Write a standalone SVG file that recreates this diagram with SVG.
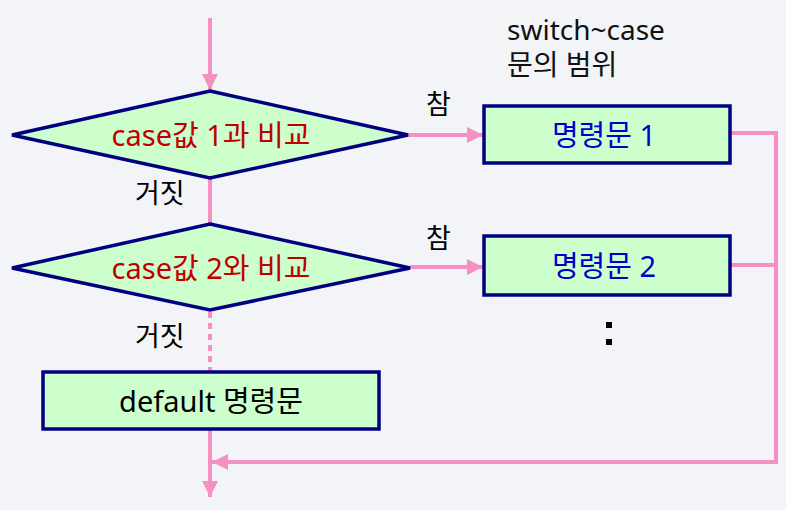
<svg xmlns="http://www.w3.org/2000/svg" width="786" height="510" viewBox="0 0 786 510">
<style>
.bg{fill:#f3f4f7}
.shape{fill:#ccffcc;stroke:#000080;stroke-width:3.5}
.conn{fill:none;stroke:#f690c2;stroke-width:4}
.dash{stroke-dasharray:6 5}
text{font-family:"Noto Sans","Noto Sans CJK KR",sans-serif}
.cond{fill:#c00000;font-size:29px;text-anchor:middle}
.stmt{fill:#0000cc;font-size:29px;text-anchor:middle}
.lbl{fill:#000;font-size:27px}
.dflt{fill:#000;font-size:29px;text-anchor:middle}
.note{fill:#111;font-size:28px}
</style>
<defs>
<marker id="ah" viewBox="0 0 10 10" refX="10" refY="5" markerWidth="4.5" markerHeight="4" orient="auto" markerUnits="strokeWidth">
<path d="M0,0 L10,5 L0,10 z" fill="#f690c2"/>
</marker>
</defs>
<rect class="bg" x="0" y="0" width="786" height="510"/>
<g id="connectors">
<line class="conn" x1="210" y1="18" x2="210" y2="90" marker-end="url(#ah)"/>
<line class="conn" x1="210" y1="178" x2="210" y2="224"/>
<line class="conn dash" x1="210" y1="312" x2="210" y2="371"/>
<line class="conn" x1="210" y1="430" x2="210" y2="497" marker-end="url(#ah)"/>
<line class="conn" x1="408" y1="135" x2="483" y2="135" marker-end="url(#ah)"/>
<line class="conn" x1="410" y1="267" x2="483" y2="267" marker-end="url(#ah)"/>
<polyline class="conn" points="731,133 776,133 776,462 212,462" marker-end="url(#ah)"/>
<line class="conn" x1="731" y1="265" x2="776" y2="265"/>
</g>
<g id="cond1">
<polygon class="shape" points="210,91 408,135 210,178 12,135"/>
<text class="cond" x="211" y="146">case값 1과 비교</text>
</g>
<g id="cond2">
<polygon class="shape" points="210,224 410,268 210,310 12,268"/>
<text class="cond" x="211" y="279">case값 2와 비교</text>
</g>
<g id="stmt1">
<rect class="shape" x="484" y="106" width="246" height="57"/>
<text class="stmt" x="604" y="146">명령문 1</text>
</g>
<g id="stmt2">
<rect class="shape" x="484" y="236" width="246" height="59"/>
<text class="stmt" x="604" y="277">명령문 2</text>
</g>
<g id="default">
<rect class="shape" x="43" y="372" width="336" height="57"/>
<text class="dflt" x="211" y="412">default 명령문</text>
</g>
<g id="labels">
<text class="lbl" x="426" y="114">참</text>
<text class="lbl" x="426" y="248">참</text>
<text class="lbl" x="135" y="203">거짓</text>
<text class="lbl" x="135" y="346">거짓</text>
<text class="note"><tspan x="507" y="40">switch~case</tspan><tspan x="507" y="75">문의 범위</tspan></text>
<rect x="606" y="322" width="6" height="6" fill="#000"/>
<rect x="606" y="339" width="6" height="6" fill="#000"/>
</g>
</svg>
